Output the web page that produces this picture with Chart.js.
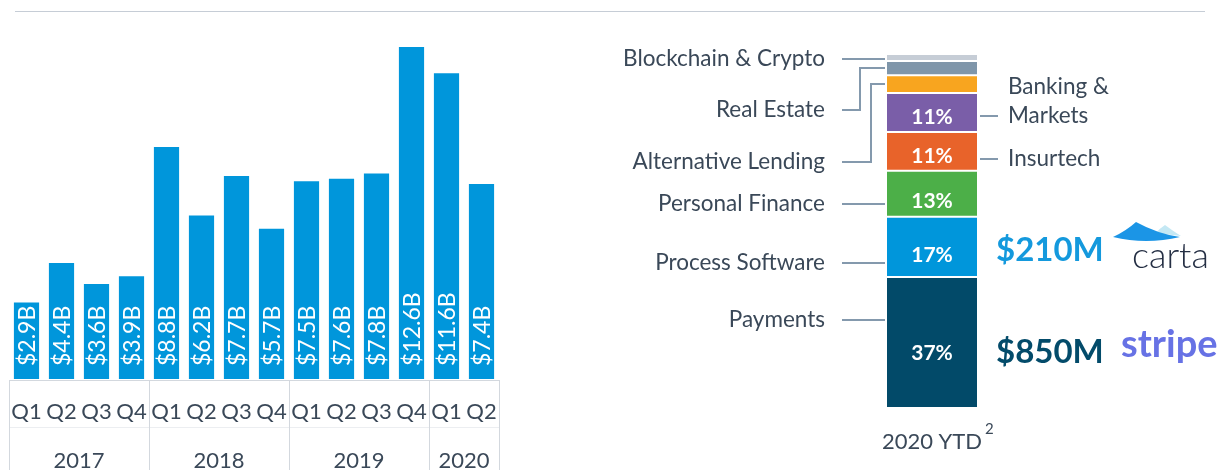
<!DOCTYPE html>
<html><head><meta charset="utf-8">
<script src="https://cdn.jsdelivr.net/npm/chart.js@4.4.1/dist/chart.umd.min.js"></script>
<style>
html,body{margin:0;padding:0;background:#fff;}
body{width:1220px;height:470px;position:relative;overflow:hidden;font-family:Lato,sans-serif;}
#topline{position:absolute;left:15px;top:11px;width:1190px;height:1px;background:#c6cdd6;}
#left{position:absolute;left:0;top:0;width:520px;height:470px;}
#right{position:absolute;left:520px;top:0;width:700px;height:470px;}
</style></head><body>
<div id="topline"></div>
<div id="left"><canvas id="c1" width="520" height="470"></canvas></div>
<div id="right"><canvas id="c2" width="700" height="470"></canvas></div>
<script>
// ---------- data ----------
const quarters = ['Q1','Q2','Q3','Q4','Q1','Q2','Q3','Q4','Q1','Q2','Q3','Q4','Q1','Q2'];
const years = ['2017','2018','2019','2020'];
const quartersPerYear = [4,4,4,2];
const funding = [2.9,4.4,3.6,3.9,8.8,6.2,7.7,5.7,7.5,7.6,7.8,12.6,11.6,7.4];
const fundingLabels = ['$2.9B','$4.4B','$3.6B','$3.9B','$8.8B','$6.2B','$7.7B','$5.7B','$7.5B','$7.6B','$7.8B','$12.6B','$11.6B','$7.4B'];

const ytdCategory = ['2020 YTD'];
const sectors = ['Payments','Process Software','Personal Finance','Insurtech','Banking & Markets','Alternative Lending','Real Estate','Blockchain & Crypto'];
const sectorShare = [37,17,13,11,11,5,4,2];
const sectorShareLabels = ['37%','17%','13%','11%','11%','','',''];
const highlightAmounts = ['$850M','$210M'];
const highlightCompanies = ['stripe','carta'];

// ---------- styles / layout ----------
const TEXT = '#3a4858';
const FONT = 'Lato, "Noto Sans", sans-serif';
const sectorColors = ['#024a69','#0096db','#4caf48','#e8632a','#7a5ea8','#f8a51f','#7f96aa','#c6cdd6'];
const calloutLayout = [
  {side:'left', y:25},
  {side:'left', y:41},
  {side:'left', y:57.6},
  {side:'right', y:70.3},
  {side:'right', y:82.5, split:['Banking &','Markets']},
  {side:'left', y:69.5, elbow:16},
  {side:'left', y:84.2, elbow:27},
  {side:'left', y:98.6}
];
const pctOffset = [11,8,7,5,5,0,0,0];
const highlightLayout = [
  {sector:0, dy:10, color:'#034b6a'},
  {sector:1, dy:3, color:'#1499dd'}
];

// ---------- left chart decorations ----------
const leftDecor = {
  id:'leftDecor',
  afterDatasetsDraw(chart){
    const ctx = chart.ctx, ca = chart.chartArea, xs = chart.scales.x;
    const meta = chart.getDatasetMeta(0);
    ctx.save();
    ctx.fillStyle = '#ffffff';
    ctx.font = '23px ' + FONT;
    ctx.textAlign = 'left';
    ctx.textBaseline = 'middle';
    meta.data.forEach((el,i)=>{
      ctx.save();
      ctx.translate(el.x + 1, el.base - 13);
      ctx.rotate(-Math.PI/2);
      ctx.fillText(fundingLabels[i], 0, 0);
      ctx.restore();
    });
    ctx.restore();

    const step = ca.width / quarters.length;
    const top = ca.bottom + 1;
    const bottomY = chart.height;
    ctx.save();
    ctx.strokeStyle = '#eceef1';
    ctx.lineWidth = 1;
    ctx.beginPath(); ctx.moveTo(ca.left, 427.5); ctx.lineTo(ca.right, 427.5); ctx.stroke();
    ctx.strokeStyle = '#d3d8de';
    ctx.beginPath(); ctx.moveTo(ca.left, top + 0.5); ctx.lineTo(ca.right, top + 0.5); ctx.stroke();
    let idx = 0;
    const bounds = [ca.left];
    quartersPerYear.forEach(n=>{ idx += n; bounds.push(ca.left + idx*step); });
    bounds.forEach(b=>{
      const bx = Math.round(b) + 0.5;
      ctx.beginPath(); ctx.moveTo(bx, top); ctx.lineTo(bx, bottomY); ctx.stroke();
    });
    ctx.fillStyle = TEXT;
    ctx.font = '22px ' + FONT;
    ctx.textAlign = 'center';
    ctx.textBaseline = 'middle';
    quarters.forEach((q,i)=>{ ctx.fillText(q, xs.getPixelForValue(i), 412); });
    years.forEach((y,k)=>{ ctx.fillText(y, (bounds[k]+bounds[k+1])/2, 461); });
    ctx.restore();
  }
};

// ---------- right chart decorations ----------
const rightDecor = {
  id:'rightDecor',
  afterDatasetsDraw(chart){
    const ctx = chart.ctx, ca = chart.chartArea, ys = chart.scales.y;
    const seg = sectors.map((s,i)=>{
      const el = chart.getDatasetMeta(i).data[0];
      return {top:el.y, base:el.base, mid:(el.y+el.base)/2, x:el.x};
    });
    ctx.save();
    ctx.fillStyle = '#ffffff';
    ctx.font = 'bold 21px ' + FONT;
    ctx.textAlign = 'center';
    ctx.textBaseline = 'middle';
    sectorShareLabels.forEach((t,i)=>{ if(t) ctx.fillText(t, seg[i].x, seg[i].mid + pctOffset[i]); });

    ctx.strokeStyle = '#8499ad';
    ctx.lineWidth = 2;
    ctx.font = '22.5px ' + FONT;
    ctx.fillStyle = TEXT;
    calloutLayout.forEach((c,i)=>{
      const ly = Math.round(ys.getPixelForValue(c.y));
      if(c.side === 'left'){
        const x0 = ca.left - 45, x1 = ca.left - 2;
        ctx.beginPath();
        if(c.elbow){
          const ex = ca.left - c.elbow;
          const sy = Math.round(seg[i].mid);
          ctx.moveTo(x0, ly); ctx.lineTo(ex, ly); ctx.lineTo(ex, sy); ctx.lineTo(x1, sy);
        } else {
          ctx.moveTo(x0, ly); ctx.lineTo(x1, ly);
        }
        ctx.stroke();
        ctx.textAlign = 'right';
        ctx.fillText(sectors[i], ca.left - 62, ly);
      } else {
        ctx.beginPath(); ctx.moveTo(ca.right + 3, ly); ctx.lineTo(ca.right + 21, ly); ctx.stroke();
        ctx.textAlign = 'left';
        if(c.split){
          ctx.fillText(c.split[0], ca.right + 31, ly - 29);
          ctx.fillText(c.split[1], ca.right + 31, ly);
        } else ctx.fillText(sectors[i], ca.right + 31, ly);
      }
    });

    ctx.textAlign = 'left';
    ctx.textBaseline = 'middle';
    ctx.font = 'bold 33px ' + FONT;
    highlightLayout.forEach((h,k)=>{
      ctx.fillStyle = h.color;
      ctx.fillText(highlightAmounts[k], ca.right + 19, seg[h.sector].mid + h.dy);
    });

    const r = ca.right;
    const stripeY = seg[0].mid + 14;
    ctx.textBaseline = 'alphabetic';
    ctx.fillStyle = '#6772e5';
    ctx.font = 'bold 38px ' + FONT;
    ctx.fillText(highlightCompanies[0], r + 144, stripeY);

    const cartaY = seg[1].mid + 21;
    ctx.fillStyle = '#252f44';
    ctx.font = '300 36px ' + FONT;
    ctx.fillText(highlightCompanies[1], r + 155, cartaY);
    // carta swoosh (left tip at ox)
    const ox = r + 136, oy = cartaY - 31;
    ctx.fillStyle = '#c4e8f4';
    ctx.beginPath();
    ctx.moveTo(ox + 42, oy - 3);
    ctx.quadraticCurveTo(ox + 47, oy - 9, ox + 52, oy - 12);
    ctx.quadraticCurveTo(ox + 60, oy - 6, ox + 68, oy - 1);
    ctx.quadraticCurveTo(ox + 55, oy - 3, ox + 42, oy - 3);
    ctx.closePath(); ctx.fill();
    ctx.fillStyle = '#1b95e6';
    ctx.beginPath();
    ctx.moveTo(ox, oy);
    ctx.quadraticCurveTo(ox + 13, oy - 6, ox + 23, oy - 15);
    ctx.quadraticCurveTo(ox + 45, oy - 3, ox + 67, oy);
    ctx.quadraticCurveTo(ox + 33, oy + 8, ox, oy);
    ctx.closePath(); ctx.fill();

    ctx.fillStyle = TEXT;
    ctx.textAlign = 'center';
    ctx.textBaseline = 'middle';
    ctx.font = '22px ' + FONT;
    const cx = (ca.left + ca.right)/2;
    ctx.fillText(ytdCategory[0], cx, 442);
    const w = ctx.measureText(ytdCategory[0]).width;
    ctx.font = '15px ' + FONT;
    ctx.textAlign = 'left';
    ctx.fillText('2', cx + w/2 + 3, 429);
    ctx.restore();
  }
};

function build(){
  new Chart(document.getElementById('c1'), {
    type:'bar',
    data:{labels:quarters, datasets:[{data:funding, backgroundColor:'#0096db', barPercentage:0.72, categoryPercentage:1, borderWidth:0}]},
    options:{
      responsive:false, animation:false, devicePixelRatio:1,
      layout:{padding:{left:9, right:21, top:10, bottom:91}},
      plugins:{legend:{display:false}, tooltip:{enabled:false}},
      scales:{x:{display:false}, y:{display:false, min:0, max:14}}
    },
    plugins:[leftDecor]
  });

  new Chart(document.getElementById('c2'), {
    type:'bar',
    data:{labels:ytdCategory, datasets:sectors.map((s,i)=>({
      label:s, data:[sectorShare[i]], backgroundColor:sectorColors[i],
      borderColor:'#ffffff', borderWidth:{top:1,bottom:1,left:0,right:0}, borderSkipped:false,
      inflateAmount:0, barPercentage:1, categoryPercentage:1, stack:'s'
    }))},
    options:{
      responsive:false, animation:false, devicePixelRatio:1,
      layout:{padding:{left:367, right:243, top:54, bottom:62}},
      plugins:{legend:{display:false}, tooltip:{enabled:false}},
      scales:{x:{display:false, stacked:true}, y:{display:false, stacked:true, min:0, max:100}}
    },
    plugins:[rightDecor]
  });
}
const fl = document.fonts ? Promise.all(['20px Lato','bold 20px Lato','300 20px Lato'].map(f=>document.fonts.load(f))).catch(()=>{}) : Promise.resolve();
fl.then(build, build);
</script>
</body></html>
